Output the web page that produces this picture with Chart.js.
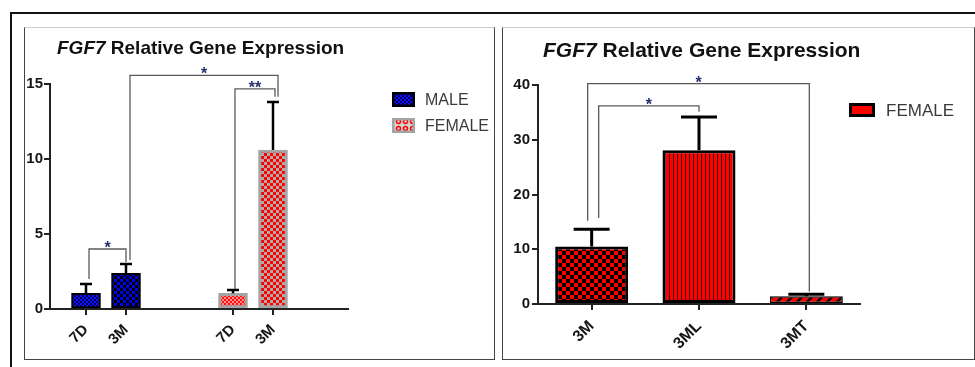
<!DOCTYPE html>
<html>
<head>
<meta charset="utf-8">
<script src="https://cdn.jsdelivr.net/npm/chart.js@4.4.1/dist/chart.umd.min.js"></script>
<style>
  body { margin: 0; background: #fff; width: 975px; height: 367px; position: relative; overflow: hidden; }
  .frame { position: absolute; left: 10px; top: 12px; width: 970px; height: 360px; border-top: 2px solid #111; border-left: 2px solid #111; }
  .panel { position: absolute; top: 27px; height: 333px; border: 1.5px solid #444; border-top-color: #ccc; box-sizing: border-box; }
  canvas { position: absolute; top: 27px; }
</style>
</head>
<body>
<div class="frame"></div>
<div class="panel" style="left:24px;width:471px"></div>
<div class="panel" style="left:502px;width:473px"></div>
<canvas id="leftChart" width="470" height="334" style="left:24px"></canvas>
<canvas id="rightChart" width="472" height="334" style="left:502px"></canvas>
<script>
// left graph: male / female, 7 days vs 3 months
const leftLabels = ['7D', '3M', '7D', '3M'];
const leftSlots = [1, 2, 4.675, 5.675];
const maleMean = [1.05, 2.38];
const maleSem = [0.62, 0.62];
const femaleMean = [1.05, 10.6];
const femaleSem = [0.22, 3.2];
const leftBrackets = [
  {from: 1, to: 2, top: 4.0, y1: 2.0, y2: 3.13, label: '*'},
  {from: 2, to: 5.675, top: 15.57, y1: 3.27, y2: 14.15, label: '*'},
  {from: 4.675, to: 5.675, top: 14.67, y1: 1.33, y2: 14.15, label: '**'}
];

// right graph: female 3M / 3ML / 3MT
const rightLabels = ['3M', '3ML', '3MT'];
const rightMean = [10.5, 28.1, 1.4];
const rightSem = [3.16, 6.07, 0.4];
const rightBrackets = [
  {from: 0, to: 2, top: 40.25, y1: 15.2, y2: 2.3, label: '*'},
  {from: 0, to: 1, top: 36.2, y1: 15.7, y2: 35.1, label: '*'}
];

const FONT = "'Liberation Sans', Arial, sans-serif";

function tile(w, h, paint) {
  const c = document.createElement('canvas');
  c.width = w; c.height = h;
  const g = c.getContext('2d');
  paint(g);
  return g.createPattern(c, 'repeat');
}
function checker(a, b, s) {
  return tile(2 * s, 2 * s, g => {
    g.fillStyle = a; g.fillRect(0, 0, 2 * s, 2 * s);
    g.fillStyle = b; g.fillRect(s, 0, s, s); g.fillRect(0, s, s, s);
  });
}
const maleFine = checker('#1010ff', '#00005c', 2);
const maleCoarse = checker('#0000f0', '#000000', 3);
const femaleFine = checker('#ff1010', '#ff8c8c', 2);
const femaleCoarse = checker('#ff0000', '#b4a8a8', 3);
const redChecker = checker('#ff0000', '#000000', 4);
const redStripes = tile(4, 4, g => {
  g.fillStyle = '#ff0000'; g.fillRect(0, 0, 4, 4);
  g.fillStyle = '#3a0000'; g.fillRect(3, 0, 1, 4);
});
const redHatch = tile(10, 10, g => {
  g.fillStyle = '#ff0000'; g.fillRect(0, 0, 10, 10);
  g.strokeStyle = '#000'; g.lineWidth = 2.5;
  for (let k = -10; k <= 20; k += 10) {
    g.beginPath(); g.moveTo(k, 10); g.lineTo(k + 10, 0); g.stroke();
  }
});
const femaleRings = tile(7, 7, g => {
  g.fillStyle = '#d4d4d4'; g.fillRect(0, 0, 7, 7);
  g.strokeStyle = '#ff0000'; g.lineWidth = 1.5;
  g.beginPath(); g.arc(3.5, 3.5, 2, 0, Math.PI * 2); g.stroke();
});

function titlePlugin(x, y, size) {
  return {
    id: 'geneTitle',
    afterDraw(chart) {
      const ctx = chart.ctx;
      ctx.save();
      ctx.fillStyle = '#111';
      ctx.textBaseline = 'middle';
      ctx.font = `italic bold ${size}px ${FONT}`;
      ctx.fillText('FGF7', x, y);
      const w = ctx.measureText('FGF7').width;
      ctx.font = `bold ${size}px ${FONT}`;
      ctx.fillText(' Relative Gene Expression', x + w, y);
      ctx.restore();
    }
  };
}

function legendPlugin(o) {
  return {
    id: 'boxLegend',
    afterDraw(chart) {
      const ctx = chart.ctx;
      ctx.save();
      chart.data.datasets.forEach((ds, i) => {
        const top = o.y + i * o.step;
        ctx.fillStyle = ds.legendFill;
        ctx.fillRect(o.x, top, o.w, o.h);
        ctx.strokeStyle = ds.legendBorder;
        ctx.lineWidth = o.line;
        ctx.strokeRect(o.x + o.line / 2, top + o.line / 2, o.w - o.line, o.h - o.line);
        ctx.fillStyle = '#3a3a3a';
        ctx.font = `${o.size}px ${FONT}`;
        ctx.textBaseline = 'middle';
        ctx.fillText(ds.label, o.textX, top + o.h / 2 + 1);
      });
      ctx.restore();
    }
  };
}

function errorPlugin(cap, width) {
  return {
    id: 'errorBars',
    afterDatasetsDraw(chart) {
      const ctx = chart.ctx, ys = chart.scales.y;
      ctx.save();
      ctx.strokeStyle = '#000';
      ctx.lineWidth = width;
      chart.data.datasets.forEach((ds, di) => {
        chart.getDatasetMeta(di).data.forEach((bar, i) => {
          const d = ds.data[i];
          const v = typeof d === 'object' ? d.y : d;
          const top = ys.getPixelForValue(v + ds.errorBars[i]);
          ctx.beginPath();
          ctx.moveTo(bar.x, bar.y);
          ctx.lineTo(bar.x, top);
          ctx.moveTo(bar.x - cap / 2, top);
          ctx.lineTo(bar.x + cap / 2, top);
          ctx.stroke();
        });
      });
      ctx.restore();
    }
  };
}

function bracketPlugin(list, nudges) {
  return {
    id: 'brackets',
    afterDraw(chart) {
      const {ctx, scales: {x, y}} = chart;
      ctx.save();
      list.forEach((b, i) => {
        const x1 = x.getPixelForValue(b.from) + nudges[i][0];
        const x2 = x.getPixelForValue(b.to) + nudges[i][1];
        const yt = y.getPixelForValue(b.top);
        ctx.strokeStyle = '#5a5a5a';
        ctx.lineWidth = 1.3;
        ctx.beginPath();
        ctx.moveTo(x1, y.getPixelForValue(b.y1));
        ctx.lineTo(x1, yt);
        ctx.lineTo(x2, yt);
        ctx.lineTo(x2, y.getPixelForValue(b.y2));
        ctx.stroke();
        ctx.fillStyle = '#26306e';
        ctx.font = `bold 16px ${FONT}`;
        ctx.textAlign = 'center';
        ctx.textBaseline = 'alphabetic';
        ctx.fillText(b.label, (x1 + x2) / 2, yt + 4);
      });
      ctx.restore();
    }
  };
}

const tickFont = {family: FONT, size: 15, weight: 'bold'};
const axisGrid = {drawOnChartArea: false, color: '#222', lineWidth: 2, tickLength: 6};
const axisBorder = {display: true, color: '#222', width: 2};

new Chart(document.getElementById('leftChart'), {
  type: 'bar',
  data: {
    datasets: [{
      label: 'MALE',
      data: maleMean.map((v, i) => ({x: leftSlots[i], y: v})),
      errorBars: maleSem,
      backgroundColor: [maleFine, maleCoarse],
      borderColor: '#000',
      borderWidth: 2,
      legendFill: maleFine,
      legendBorder: '#000'
    }, {
      label: 'FEMALE',
      data: femaleMean.map((v, i) => ({x: leftSlots[i + 2], y: v})),
      errorBars: femaleSem,
      backgroundColor: [femaleFine, femaleCoarse],
      borderColor: '#a4a4a4',
      borderWidth: 3,
      legendFill: femaleRings,
      legendBorder: '#a4a4a4'
    }]
  },
  options: {
    responsive: false,
    animation: false,
    events: [],
    grouped: false,
    barThickness: 29,
    borderSkipped: false,
    layout: {padding: {left: 0, top: 57, right: 146, bottom: 0}},
    plugins: {legend: {display: false}, tooltip: {enabled: false}},
    scales: {
      x: {
        type: 'linear',
        min: 0.1,
        max: 7.55,
        offset: false,
        grid: Object.assign({offset: false}, axisGrid),
        border: axisBorder,
        afterBuildTicks: s => { s.ticks = leftSlots.map(v => ({value: v})); },
        afterFit: s => { s.height = 52; },
        ticks: {
          font: {family: FONT, size: 15, weight: 'bold'}, color: '#151515', padding: 6,
          minRotation: 45, maxRotation: 45, autoSkip: false,
          callback: (v, i) => leftLabels[i]
        }
      },
      y: {
        min: 0,
        max: 15,
        grid: axisGrid,
        border: axisBorder,
        afterFit: s => { s.width = 26; },
        ticks: {stepSize: 5, font: tickFont, color: '#151515', padding: 1}
      }
    }
  },
  plugins: [
    titlePlugin(33, 22, 19),
    legendPlugin({x: 368, y: 65, step: 26, w: 23, h: 15, line: 2.5, textX: 401, size: 16}),
    errorPlugin(12, 2.5),
    bracketPlugin(leftBrackets, [[3, 0], [4, 5], [2, 2]])
  ]
});

new Chart(document.getElementById('rightChart'), {
  type: 'bar',
  data: {
    labels: rightLabels,
    datasets: [{
      label: 'FEMALE',
      data: rightMean,
      errorBars: rightSem,
      backgroundColor: [redChecker, redStripes, redHatch],
      borderColor: '#000',
      borderWidth: [3, 3, 1.5],
      barPercentage: 0.68,
      categoryPercentage: 1,
      borderSkipped: false,
      legendFill: '#ff0000',
      legendBorder: '#000'
    }]
  },
  options: {
    responsive: false,
    animation: false,
    events: [],
    layout: {padding: {left: 0, top: 58, right: 114, bottom: 0}},
    plugins: {legend: {display: false}, tooltip: {enabled: false}},
    scales: {
      x: {
        grid: Object.assign({offset: false}, axisGrid),
        border: axisBorder,
        afterFit: s => { s.height = 57; },
        ticks: {font: {family: FONT, size: 16, weight: 'bold'}, color: '#151515', padding: 7, minRotation: 45, maxRotation: 45}
      },
      y: {
        min: 0,
        max: 40,
        grid: axisGrid,
        border: axisBorder,
        afterFit: s => { s.width = 36; },
        ticks: {stepSize: 10, font: tickFont, color: '#151515', padding: 2}
      }
    }
  },
  plugins: [
    titlePlugin(41, 24, 21),
    legendPlugin({x: 347, y: 76, step: 26, w: 26, h: 14, line: 3, textX: 384, size: 17}),
    errorPlugin(36, 3),
    bracketPlugin(rightBrackets, [[-4, 3], [7, 0]])
  ]
});
</script>
</body>
</html>
